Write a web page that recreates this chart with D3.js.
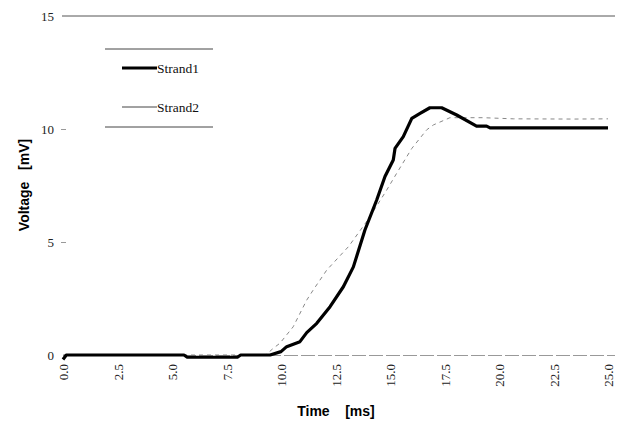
<!DOCTYPE html>
<html><head><meta charset="utf-8">
<script src="https://cdn.jsdelivr.net/npm/d3@7"></script>
<style>body{margin:0;background:#fff}svg{display:block}</style>
</head><body>
<svg id="c" width="619" height="421"></svg>
<script>
const xTicks = [0, 2.5, 5, 7.5, 10, 12.5, 15, 17.5, 20, 22.5, 25];
const yTicks = [0, 5, 10, 15];
const seriesNames = ["Strand1", "Strand2"];
const strand1T = [0, 0.15, 5.55, 5.7, 8.0, 8.15, 9.5, 10.0, 10.26, 10.87, 11.18, 11.64, 12.25, 12.86, 13.32, 13.85, 14.39, 14.77, 15.15, 15.23, 15.61, 16.0, 16.38, 16.83, 17.37, 18.06, 18.97, 19.43, 19.59, 25.0];
const strand1V = [-0.2, 0, 0, -0.1, -0.1, 0, 0, 0.15, 0.37, 0.59, 0.99, 1.4, 2.14, 3.02, 3.9, 5.53, 6.86, 7.9, 8.63, 9.14, 9.66, 10.47, 10.69, 10.94, 10.94, 10.62, 10.13, 10.13, 10.05, 10.05];
const strand2T = [0, 9.3, 9.65, 9.95, 10.56, 11.18, 11.48, 12.1, 13.1, 14.0, 14.85, 15.3, 16.0, 16.68, 16.99, 17.75, 19.28, 20.66, 23.4, 25];
const strand2V = [0, 0, 0.3, 0.52, 1.25, 2.43, 2.88, 3.76, 4.8, 6.0, 7.3, 8.03, 9.14, 9.96, 10.18, 10.5, 10.5, 10.45, 10.44, 10.45];

const svg = d3.select("#c");
const x = d3.scaleLinear().domain([0, 25]).range([63, 608]);
const y = d3.scaleLinear().domain([0, 15]).range([355, 16]);

// top reference line at 15 and baseline at 0
svg.append("line").attr("x1", 62).attr("x2", 615).attr("y1", y(15)).attr("y2", y(15))
  .attr("stroke", "#555").attr("stroke-width", 1);
svg.append("line").attr("x1", x(0)).attr("x2", 615).attr("y1", y(0) + 0.5).attr("y2", y(0) + 0.5)
  .attr("stroke", "#999").attr("stroke-width", 1).attr("stroke-dasharray", "14,3");

// y axis
const ya = svg.append("g").attr("transform", "translate(66,0)")
  .call(d3.axisLeft(y).tickValues(yTicks).tickSize(5).tickFormat(d3.format("d")));
ya.select(".domain").remove();
ya.selectAll(".tick line").attr("stroke", "#999");
ya.selectAll(".tick text").attr("font-family", "Liberation Serif, serif").attr("font-size", 13)
  .attr("fill", "#222").attr("x", -12);
ya.selectAll(".tick").filter(d => d === 15 || d === 0).select("line").remove();

// x axis
const xa = svg.append("g").attr("transform", `translate(0,${y(0)})`)
  .call(d3.axisBottom(x).tickValues(xTicks).tickSize(0).tickFormat(d3.format(".1f")));
xa.select(".domain").remove();
xa.selectAll(".tick text").attr("font-family", "Liberation Serif, serif").attr("font-size", 13)
  .attr("fill", "#222").attr("text-anchor", "end")
  .attr("transform", "rotate(-90)").attr("x", -9).attr("y", 0).attr("dy", "0.35em");

// lines
const line = d3.line().x(d => x(d[0])).y(d => y(d[1]));
const s1 = strand1T.map((t, i) => [t, strand1V[i]]);
const s2 = strand2T.map((t, i) => [t, strand2V[i]]);
svg.append("path").datum(s2).attr("d", line).attr("fill", "none")
  .attr("stroke", "#888").attr("stroke-width", 1).attr("stroke-dasharray", "4,4");
svg.append("path").datum(s1).attr("d", line).attr("fill", "none")
  .attr("stroke", "#000").attr("stroke-width", 3.2).attr("stroke-linejoin", "round");

// axis titles
svg.append("text").attr("transform", "translate(29,185) rotate(-90)").attr("text-anchor", "middle")
  .attr("font-family", "Liberation Sans, Arial, sans-serif").attr("font-weight", "bold").attr("font-size", 14)
  .style("white-space", "pre").text("Voltage   [mV]");
svg.append("text").attr("x", 336).attr("y", 416).attr("text-anchor", "middle")
  .attr("font-family", "Liberation Sans, Arial, sans-serif").attr("font-weight", "bold").attr("font-size", 14)
  .style("white-space", "pre").text("Time    [ms]");

// legend
const lg = svg.append("g");
lg.append("line").attr("x1", 105).attr("x2", 213).attr("y1", 49).attr("y2", 49).attr("stroke", "#444");
lg.append("line").attr("x1", 105).attr("x2", 213).attr("y1", 127).attr("y2", 127).attr("stroke", "#444");
const legY = [68, 107];
const legStyle = [{w: 3.2, c: "#000"}, {w: 1, c: "#444"}];
seriesNames.forEach((n, i) => {
  lg.append("line").attr("x1", 122).attr("x2", 157).attr("y1", legY[i]).attr("y2", legY[i])
    .attr("stroke", legStyle[i].c).attr("stroke-width", legStyle[i].w);
  lg.append("text").attr("x", 157).attr("y", legY[i]).attr("dy", "0.35em")
    .attr("font-family", "Liberation Serif, serif").attr("font-size", 13.5).attr("fill", "#111").text(n);
});
</script>
</body></html>
